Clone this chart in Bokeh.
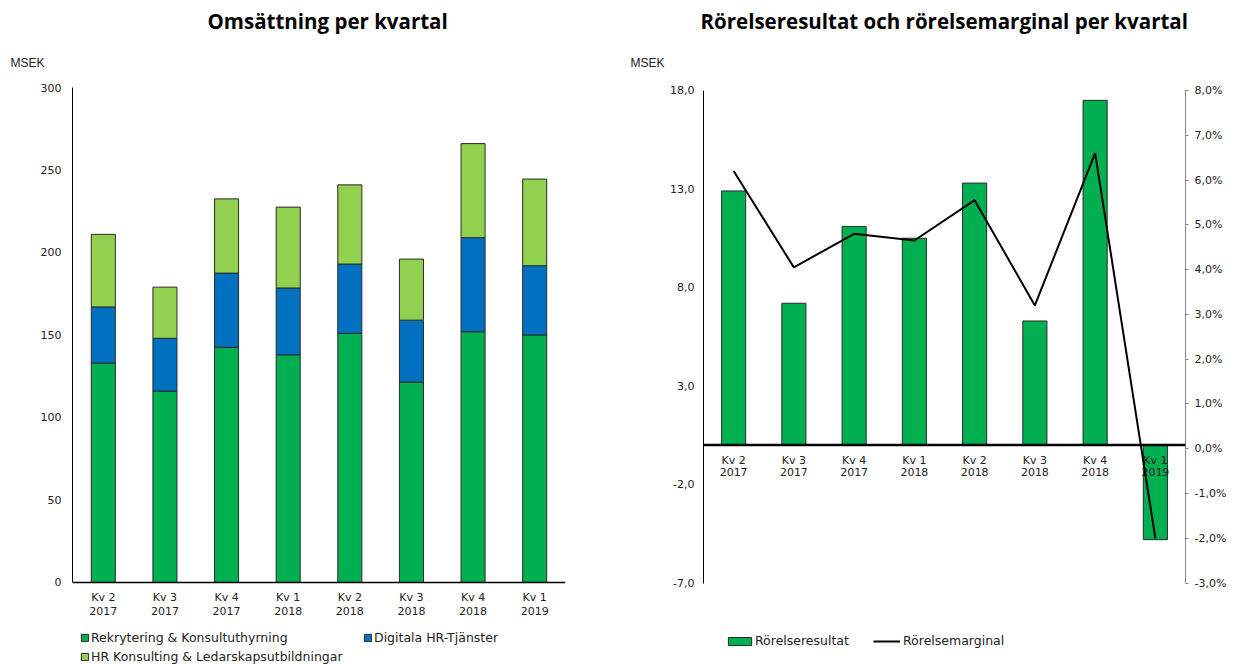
from bokeh.plotting import figure
from bokeh.layouts import row
from bokeh.models import (ColumnDataSource, Title, Legend, LegendItem, LinearAxis,
                          Range1d, FixedTicker, CustomJSTickFormatter, Span)
from bokeh.embed import file_html
from bokeh.resources import INLINE
from bokeh.core.properties import value

# ---------------- data ----------------
quarters = ["Kv 2\n2017", "Kv 3\n2017", "Kv 4\n2017", "Kv 1\n2018",
            "Kv 2\n2018", "Kv 3\n2018", "Kv 4\n2018", "Kv 1\n2019"]

rekrytering = [133, 116, 142.5, 138, 151, 121.5, 152, 150]
digitala = [34, 32, 45, 40.5, 42, 37.5, 57, 42]
hr_konsulting = [44, 31, 45, 49, 48, 37, 57, 52.5]
left_ticks = [0, 50, 100, 150, 200, 250, 300]

rorelseresultat = [12.9, 7.2, 11.1, 10.5, 13.3, 6.3, 17.5, -4.8]
rorelsemarginal = [6.2, 4.05, 4.8, 4.65, 5.55, 3.2, 6.6, -2.0]
msek_ticks = [-7, -2, 3, 8, 13, 18]
pct_ticks = [-3, -2, -1, 0, 1, 2, 3, 4, 5, 6, 7, 8]

series_names = ["Rekrytering & Konsultuthyrning", "Digitala HR-Tjänster",
                "HR Konsulting & Ledarskapsutbildningar"]
series_colors = ["#00B050", "#0070C0", "#92D050"]

TICK_FONT = "DejaVu Sans"
TITLE_FONT = "Open Sans"
MSEK_FONT = "Liberation Sans"
TXT = "#222222"
TICK_SIZE = "11px"
LEGEND_SIZE = "12.5px"


def style_common(p):
    p.outline_line_color = None
    p.xgrid.visible = False
    p.ygrid.visible = False
    p.background_fill_color = "white"
    p.border_fill_color = "white"


def add_titles(p, main, main_offset, msek_offset):
    p.add_layout(Title(text="MSEK", align="left", offset=msek_offset,
                       text_font=MSEK_FONT, text_font_size="12px",
                       text_font_style="normal", text_color=TXT,
                       standoff=36), "above")
    p.add_layout(Title(text=main, align="left", offset=main_offset,
                       text_font=TITLE_FONT, text_font_size="20.5px",
                       text_font_style="bold", text_color="black",
                       standoff=2), "above")


def style_yaxis(ax, standoff):
    ax.major_tick_line_color = None
    ax.major_tick_out = 0
    ax.minor_tick_line_color = None
    ax.axis_line_color = "black"
    ax.major_label_standoff = standoff
    ax.major_label_text_font = TICK_FONT
    ax.major_label_text_font_size = TICK_SIZE
    ax.major_label_text_color = TXT


def make_legend(items, loc, gw, gh, standoff=2):
    return Legend(items=items, location=loc, orientation="horizontal",
                  glyph_width=gw, glyph_height=gh, label_standoff=standoff,
                  label_height=12, spacing=0, padding=0, margin=0,
                  border_line_color=None, background_fill_alpha=0,
                  label_text_font=TICK_FONT, label_text_font_size=LEGEND_SIZE,
                  label_text_color=TXT)


# ---------------- left chart ----------------
src = ColumnDataSource(dict(q=quarters, rek=rekrytering, dig=digitala, hr=hr_konsulting))

# frame spans y 87..664; value 0 sits at y=582, 300 at y=87
p1 = figure(x_range=quarters, y_range=Range1d(-49.7, 300), width=620, height=664,
            output_backend="svg", toolbar_location=None, title=None,
            x_axis_location=None,
            min_border_left=72, min_border_right=55, min_border_top=87,
            min_border_bottom=0)
style_common(p1)
add_titles(p1, "Omsättning  per kvartal", 135, -62)

rs = p1.vbar_stack(["rek", "dig", "hr"], x="q", width=0.39, source=src,
                   fill_color=series_colors, line_color="#2a2a2a", line_width=1)

p1.add_layout(Span(location=0, dimension="width", line_color="black", line_width=1.6))

p1.text(x=quarters, y=[0] * len(quarters), text=quarters, y_offset=8.5,
        text_align="center", text_baseline="top", text_font=value(TICK_FONT),
        text_font_size=TICK_SIZE, text_color=TXT, text_line_height=1.09)

p1.yaxis.ticker = FixedTicker(ticks=left_ticks)
p1.yaxis.bounds = (0, 300)
style_yaxis(p1.yaxis, 11)

p1.add_layout(make_legend([LegendItem(label=series_names[0], renderers=[rs[0]])], (8, 19), 9, 9))
p1.add_layout(make_legend([LegendItem(label=series_names[1], renderers=[rs[1]])], (291, 19), 9, 9))
p1.add_layout(make_legend([LegendItem(label=series_names[2], renderers=[rs[2]])], (8, 0), 9, 9))

# ---------------- right chart ----------------
p2 = figure(x_range=quarters, y_range=Range1d(-11.137, 18.152), width=616, height=664,
            output_backend="svg", toolbar_location=None, title=None,
            x_axis_location=None,
            min_border_left=83, min_border_right=51, min_border_top=87,
            min_border_bottom=0)
style_common(p2)
add_titles(p2, "Rörelseresultat och rörelsemarginal per kvartal", -3, -73)
p2.extra_y_ranges = {"pct": Range1d(-4.820, 8.067)}

bars = p2.vbar(x=quarters, top=rorelseresultat, bottom=0, width=0.40,
               fill_color="#00B050", line_color="#2a2a2a", line_width=1)

p2.add_layout(Span(location=0, dimension="width", line_color="black", line_width=2.5))

p2.text(x=quarters, y=[0] * len(quarters), text=quarters, y_offset=9,
        text_align="center", text_baseline="top", text_font=value(TICK_FONT),
        text_font_size=TICK_SIZE, text_color=TXT, text_line_height=0.95)

line = p2.line(x=quarters, y=rorelsemarginal, y_range_name="pct",
               line_color="black", line_width=2)

p2.yaxis.ticker = FixedTicker(ticks=msek_ticks)
p2.yaxis.bounds = (-7, 18)
p2.yaxis.formatter = CustomJSTickFormatter(code="return tick.toFixed(1).replace('.', ',');")
style_yaxis(p2.yaxis, 9)

rax = LinearAxis(y_range_name="pct", ticker=FixedTicker(ticks=pct_ticks), bounds=(-3, 8),
                 formatter=CustomJSTickFormatter(code="return tick.toFixed(1).replace('.', ',') + '%';"))
style_yaxis(rax, 6)
rax.axis_line_color = "#888888"
rax.major_tick_line_color = "#888888"
rax.major_tick_out = 3
rax.major_tick_in = 0
p2.add_layout(rax, "right")

p2.add_layout(make_legend([LegendItem(label="Rörelseresultat", renderers=[bars])],
                          (22, 16), 29, 10, standoff=1))
p2.add_layout(make_legend([LegendItem(label="Rörelsemarginal", renderers=[line])],
                          (170, 16), 27, 10, standoff=3))

layout = row(p1, p2)
open("out.html", "w").write(file_html(layout, INLINE))
